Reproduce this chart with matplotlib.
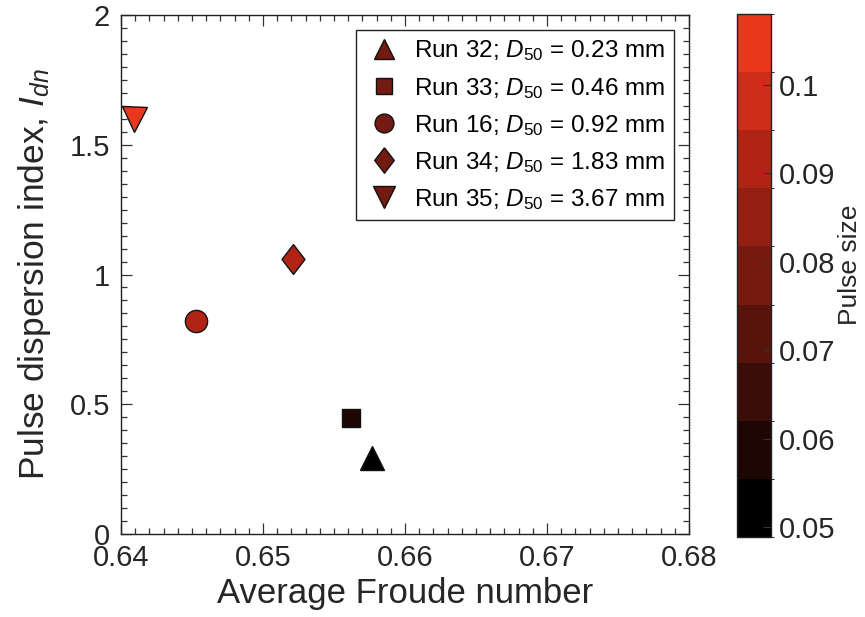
import matplotlib
matplotlib.use("Agg")
import matplotlib.pyplot as plt
import numpy as np
from matplotlib.colors import ListedColormap, BoundaryNorm
from matplotlib.lines import Line2D
from matplotlib.ticker import MultipleLocator

plt.rcParams['font.family'] = ['Liberation Sans', 'DejaVu Sans']
plt.rcParams['mathtext.fontset'] = 'custom'
plt.rcParams['mathtext.rm'] = 'Liberation Sans'
plt.rcParams['mathtext.it'] = 'Liberation Sans:italic'

# data
runs = ['Run 32', 'Run 33', 'Run 16', 'Run 34', 'Run 35']
d50 = ['0.23', '0.46', '0.92', '1.83', '3.67']
froude = [0.6577, 0.6562, 0.6453, 0.6521, 0.6409]
dispersion = [0.293, 0.448, 0.821, 1.06, 1.60]
pulse_size = [0.0489, 0.059, 0.091, 0.093, 0.108]
markers = ['^', 's', 'o', 'thin_d', 'v']

cbar_ticks = [0.05, 0.06, 0.07, 0.08, 0.09, 0.1]
band_colors = [(0, 0, 0), (30, 6, 5), (58, 13, 8), (88, 20, 12), (118, 25, 15),
               (148, 30, 18), (176, 36, 22), (205, 45, 25), (232, 56, 30)]

cmap = ListedColormap([tuple(c / 255 for c in rgb) for rgb in band_colors])
vmin, vmax = min(pulse_size), max(pulse_size)
bounds = np.linspace(vmin, vmax, len(band_colors) + 1)
norm = BoundaryNorm(bounds, cmap.N, clip=True)

diamond = [(0, 1), (0.77, 0), (0, -1), (-0.77, 0), (0, 1)]
marker_map = {'^': ('^', 17), 's': ('s', 13.5), 'o': ('o', 16), 'thin_d': (diamond, 21.5), 'v': ('v', 18)}

fig = plt.figure(figsize=(8.65, 6.17), dpi=100)
ax = fig.add_axes([0.1399, 0.1345, 0.6566, 0.8412])
cax = fig.add_axes([0.852, 0.1297, 0.039, 0.8476])

tc = '#262626'
for x, y, p, m in zip(froude, dispersion, pulse_size, markers):
    mk, ms = marker_map[m]
    ax.plot([x], [y], linestyle='none', marker=mk, markersize=ms,
            markerfacecolor=cmap(norm(p)), markeredgecolor='#111111',
            markeredgewidth=1.0, clip_on=False, zorder=3)

ax.set_xlim(0.64, 0.68)
ax.set_ylim(0, 2)
ax.xaxis.set_minor_locator(MultipleLocator(0.001))
ax.yaxis.set_minor_locator(MultipleLocator(0.05))
ax.set_xticks([0.64, 0.65, 0.66, 0.67, 0.68])
ax.set_xticklabels(['0.64', '0.65', '0.66', '0.67', '0.68'])
ax.set_yticks([0, 0.5, 1, 1.5, 2])
ax.set_yticklabels(['0', '0.5', '1', '1.5', '2'])
ax.tick_params(which='both', direction='in', top=True, right=True,
               colors='#333333', labelcolor=tc, labelsize=21, width=0.9)
ax.tick_params(which='major', length=8)
ax.tick_params(which='minor', length=4)
ax.tick_params(axis='x', pad=7)
ax.tick_params(axis='y', pad=8)
for s in ax.spines.values():
    s.set_color('#222222')
    s.set_linewidth(1.0)

ax.set_xlabel('Average Froude number', fontsize=25, color=tc, labelpad=4)
ax.set_ylabel(r'Pulse dispersion index, $\mathit{I}_{\mathit{dn}}$', fontsize=25.5, color=tc, labelpad=12)

legend_color = (0.45, 0.10, 0.07)
handles = []
for r, d, m in zip(runs, d50, markers):
    mk, ms = marker_map[m]
    handles.append(Line2D([], [], linestyle='none', marker=mk, markersize=ms * 0.85,
                          markerfacecolor=legend_color, markeredgecolor='#111111',
                          markeredgewidth=1.0,
                          label=r + r'; $\mathit{D}_{50}$ = ' + d + ' mm'))
leg = ax.legend(handles=handles, loc='upper right', bbox_to_anchor=(0.9736, 0.971),
                fontsize=17.5, frameon=True, fancybox=False, edgecolor='#222222',
                framealpha=1, handletextpad=0.45, labelspacing=0.5,
                borderpad=0.35, handlelength=1.6, borderaxespad=0)
leg.get_frame().set_linewidth(1.0)
for t in leg.get_texts():
    t.set_color('black')

sm = matplotlib.cm.ScalarMappable(norm=norm, cmap=cmap)
cb = fig.colorbar(sm, cax=cax, boundaries=bounds, spacing='proportional')
cb.set_ticks(cbar_ticks)
cb.set_ticklabels(['0.05', '0.06', '0.07', '0.08', '0.09', '0.1'])
cax.tick_params(direction='in', length=6, labelsize=21, labelcolor=tc, colors='#333333', pad=6)
cb.outline.set_edgecolor('#222222')
cb.outline.set_linewidth(1.0)
cb.set_label('Pulse size', fontsize=19, color=tc, labelpad=2)
cax.yaxis.label.set_y(0.52)

fig.savefig('out.png', dpi=100)
